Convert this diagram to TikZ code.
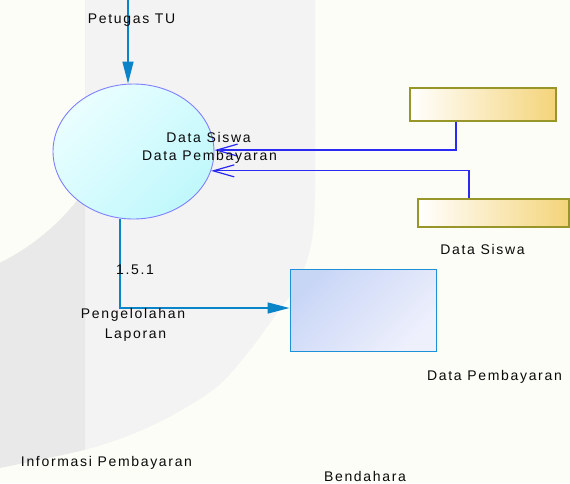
\documentclass[tikz,border=0pt]{standalone}
\usepackage{fontspec}
\setmainfont{Liberation Sans}[LetterSpace=12]
\usetikzlibrary{arrows.meta,shapes.geometric}
\definecolor{bg}{HTML}{FDFDF7}
\definecolor{wmA}{HTML}{F3F3F4}
\definecolor{wmB}{HTML}{E9E9EA}
\definecolor{flowA}{HTML}{0A84C8}
\definecolor{flowB}{HTML}{2A2AF2}
\definecolor{txt}{HTML}{0A0A0A}
\tikzset{
  lbl/.style={font=\fontsize{14}{16}\selectfont, text=txt, inner sep=0pt},
  storebox/.style={line width=1.2pt, left color=white, right color={rgb,255:red,244;green,212;blue,122}, shading angle=90, draw={rgb,255:red,152;green,150;blue,40}, inner sep=0pt},
  fflow/.style={draw=flowA, line width=1.4pt, -{Triangle[length=22pt,width=11pt]}},
  oflow/.style={draw=flowB, line width=1.2pt, -{Straight Barb[length=21pt,width=12pt]}},
}
\begin{document}
\begin{tikzpicture}[x=1pt,y=-1pt]
\useasboundingbox (0,0) rectangle (570,483);
\fill[bg] (0,0) rectangle (570,483);
% watermark
\def\outer{(-20,0) -- plot[smooth] coordinates {(315,0) (315,190) (311,245) (297,285) (277,313) (250,350) (218,386) (173,415) (130,435) (84,450) (0,468) (-20,472)} -- cycle}
\begin{scope}
  \clip (85,0) rectangle (570,483);
  \fill[wmA] \outer;
\end{scope}
\begin{scope}
  \clip (0,0) rectangle (85,483);
  \clip \outer;
  \fill[wmB, even odd rule] (-400,-400) rectangle (85,800) (-100,60) circle[radius=226];
\end{scope}
% nodes
\node[ellipse, draw={rgb,255:red,128;green,128;blue,255}, line width=0.9pt, minimum width=161pt, minimum height=135pt, top color={rgb,255:red,234;green,254;blue,255}, bottom color={rgb,255:red,192;green,248;blue,252}, shading angle=45] (proc) at (133.5,151.5) {};
\node[storebox, minimum width=146pt, minimum height=33pt] (ds1) at (483,104.5) {};
\node[storebox, minimum width=151pt, minimum height=28pt] (ds2) at (493.5,213) {};
\node[rectangle, draw={rgb,255:red,30;green,144;blue,216}, line width=1pt, minimum width=146pt, minimum height=82pt, top color={rgb,255:red,200;green,214;blue,246}, bottom color={rgb,255:red,238;green,240;blue,252}, shading angle=45] (ent) at (363,310) {};
% connectors
\coordinate (topin) at (128,0);
\draw[fflow] (topin) -- (topin |- proc.north);
\draw[oflow] (ds1.south -| 456,0) |- (proc.1.8);
\draw[oflow] (ds2.north -| 469,0) |- (proc.-14.2);
\draw[fflow] ([xshift=-13.5pt]proc.south) |- ([yshift=2pt]ent.west);
% labels
\node[lbl] (l1) at (131.5,20) {Petugas TU};
\node[lbl] (l2) at (208.5,137) {Data Siswa};
\node[lbl] (l3) at (209.5,157) {Data Pembayaran};
\node[lbl] (l4) at (482.5,249) {Data Siswa};
\node[lbl] (l5) at (135,270) {1.5.1};
\node[lbl] (l6) at (133,315) {Pengelolahan};
\node[lbl] (l7) at (135.5,335) {Laporan};
\node[lbl] (l8) at (494.5,377) {Data Pembayaran};
\node[lbl] (l9) at (106.5,463) {Informasi Pembayaran};
\node[lbl] (l10) at (365,476) {Bendahara};
\end{tikzpicture}
\end{document}
